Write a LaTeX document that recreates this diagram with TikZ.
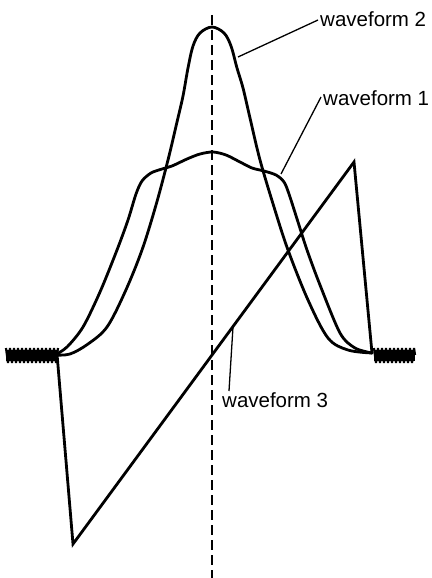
\documentclass[tikz,border=0pt]{standalone}
\usepackage{fontspec}
\setmainfont{Liberation Sans}
\begin{document}
\begin{tikzpicture}[x=1pt,y=-1pt,
  wave/.style={line width=2.8pt, line join=round, line cap=round},
  leader/.style={line width=1.3pt},
  axisline/.style={line width=2.5pt, dash pattern=on 10pt off 5pt},
  noise/.style={line width=2.2pt, line join=bevel},
  lbl/.style={font=\fontsize{20.5}{20.5}\selectfont, inner sep=0pt, anchor=base west}]
\useasboundingbox (0,0) rectangle (431,578);
% dashed centre line
\draw[axisline] (212,15) -- (212,578);
% waveform 2
\draw[wave] plot[smooth, tension=0.55] coordinates {
 (55,355) (70,354) (88,344) (107,327) (125,292) (142,250) (156,205) (168,160)
 (177,122) (183,96) (188,68) (193,46) (200,33) (212,27) (224,33) (231,46)
 (237,68) (243,88) (250,118) (260,160) (274,207) (288,250) (308,300) (328,338)
 (348,350) (372,353)};
% waveform 1
\draw[wave] plot[smooth, tension=0.5] coordinates {
 (55,355) (67,347) (83,327) (100,292) (117,250) (128,220) (136,194) (142,181)
 (151,173) (162,169) (172,166) (187,159) (200,154) (213,152) (226,155) (240,162)
 (252,168) (264,171) (276,175) (284,182) (289,194) (298,222) (307,250) (320,285)
 (340,333) (355,348) (372,353)};
% waveform 3 (sawtooth)
\coordinate (s0) at (57,354);
\coordinate (s1) at (73,544);
\coordinate (s2) at (354,162);
\coordinate (s3) at (372,353);
\draw[wave, line join=miter] (s0) -- (s1) -- (s2) -- (s3);
% noise bands
\fill (6,350) rectangle (57,361);
\draw[noise] (6,348) \foreach \i in {1,...,13} { -- ++(2,15) -- ++(2,-15) } -- (57,355);
\fill (374,350) rectangle (415,361);
\draw[noise] (374,348) \foreach \i in {1,...,10} { -- ++(2,15) -- ++(2,-15) } -- (415,355);
% labels
\node[lbl] (l2) at (320,27) {waveform 2};
\node[lbl] (l1) at (323,105) {waveform 1};
\node[lbl] (l3) at (222,407) {waveform 3};
\coordinate (p2) at (238,57);
\coordinate (p1) at (281,174);
\coordinate (p3) at (233,327);
\coordinate (e2) at (318,20);
\coordinate (e1) at (321,97);
\coordinate (e3) at (229,391);
\draw[leader] (p2) -- (e2);
\draw[leader] (p1) -- (e1);
\draw[leader] (p3) -- (e3);
\end{tikzpicture}
\end{document}
